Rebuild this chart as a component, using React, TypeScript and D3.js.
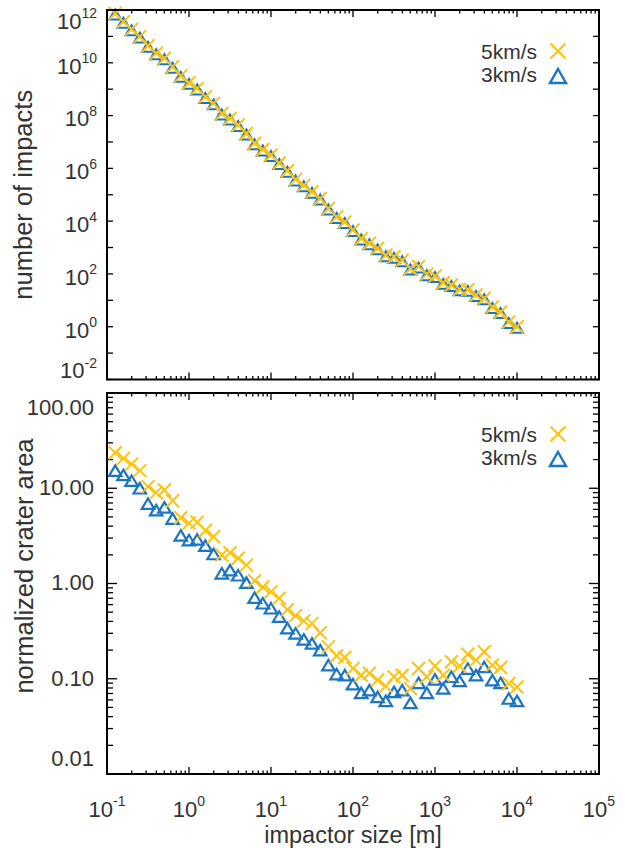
import React from "react";
import * as d3 from "d3";

// impactor size [m]
const impactorSize = [
  0.1259, 0.1585, 0.1995, 0.2512, 0.3162, 0.3981, 0.5012, 0.631, 0.7943, 1.0,
  1.259, 1.585, 1.995, 2.512, 3.162, 3.981, 5.012, 6.31, 7.943, 10,
  12.59, 15.85, 19.95, 25.12, 31.62, 39.81, 50.12, 63.1, 79.43, 100,
  125.9, 158.5, 199.5, 251.2, 316.2, 398.1, 501.2, 631, 794.3, 1000,
  1259, 1585, 1995, 2512, 3162, 3981, 5012, 6310, 7943, 10000,
];

// number of impacts
const impacts5 = [
  7.4e11, 3.6e11, 1.86e11, 9.8e10, 4.4e10, 2.3e10, 1.48e10, 7.1e9, 3.2e9, 1.74e9,
  1.07e9, 5.1e8, 2.9e8, 1.2e8, 7.8e7, 4.4e7, 2.1e7, 8.9e6, 5.2e6, 3.2e6,
  1.6e6, 8.1e5, 3.8e5, 2.3e5, 1.3e5, 7.2e4, 3.0e4, 1.45e4, 9.3e3, 4.6e3,
  2.2e3, 1.45e3, 930, 510, 450, 330, 160, 190, 98, 83,
  46, 38, 26, 25, 16, 12, 5.6, 3.6, 1.5, 1.0,
];
const impacts3 = [
  7.4e11, 3.6e11, 1.86e11, 9.8e10, 4.4e10, 2.3e10, 1.48e10, 7.1e9, 3.2e9, 1.74e9,
  1.07e9, 5.1e8, 2.9e8, 1.2e8, 7.8e7, 4.4e7, 2.1e7, 8.9e6, 5.2e6, 3.2e6,
  1.6e6, 8.1e5, 3.8e5, 2.3e5, 1.3e5, 7.2e4, 3.0e4, 1.45e4, 9.3e3, 4.6e3,
  2.2e3, 1.45e3, 930, 510, 450, 330, 160, 190, 98, 83,
  46, 38, 26, 25, 16, 12, 5.6, 3.6, 1.5, 1.0,
];

// normalized crater area
const area5 = [
  23.6, 20.6, 17.9, 15.3, 10.4, 9.0, 9.6, 7.4, 4.9, 4.3,
  4.4, 3.6, 3.1, 1.99, 2.1, 1.84, 1.56, 1.07, 0.92, 0.82,
  0.7, 0.53, 0.46, 0.405, 0.381, 0.304, 0.216, 0.173, 0.167, 0.128,
  0.109, 0.114, 0.097, 0.0836, 0.105, 0.109, 0.079, 0.128, 0.105, 0.136,
  0.109, 0.151, 0.136, 0.181, 0.157, 0.192, 0.139, 0.131, 0.089, 0.082,
];
const area3 = [
  15.3, 13.8, 12.0, 10.0, 6.9, 5.9, 6.3, 4.8, 3.2, 2.86,
  2.9, 2.5, 2.04, 1.28, 1.38, 1.22, 1.02, 0.71, 0.62, 0.55,
  0.45, 0.34, 0.3, 0.259, 0.235, 0.2, 0.139, 0.112, 0.109, 0.0878,
  0.0711, 0.0759, 0.0646, 0.0586, 0.0728, 0.0759, 0.0558, 0.0906, 0.0711, 0.0984,
  0.0791, 0.105, 0.095, 0.128, 0.109, 0.133, 0.0966, 0.0906, 0.062, 0.0586,
];

const seriesNames = ["5km/s", "3km/s"];
const seriesColors = ["#FFC30F", "#1B75C7"];

const xTickExps = [-1, 0, 1, 2, 3, 4, 5];
const topYTickExps = [-2, -1, 0, 1, 2, 3, 4, 5, 6, 7, 8, 9, 10, 11, 12];
const topYLabelExps = [-2, 0, 2, 4, 6, 8, 10, 12];
const bottomYTicks = [0.01, 0.1, 1, 10, 100];
const bottomYLabels = ["0.01", "0.10", "1.00", "10.00", "100.00"];

const xTitle = "impactor size [m]";
const topYTitle = "number of impacts";
const bottomYTitle = "normalized crater area";

const W = 625;
const H = 848;
const L = 107;
const R = 599;
const P1 = { top: 10, bottom: 379.5 };
const P2 = { top: 393, bottom: 774 };
const FONT = "'Liberation Sans', Arial, Helvetica, sans-serif";
const TXT = "#333333";

const x = d3.scaleLog().domain([0.1, 1e5]).range([L, R]);
const y1 = d3.scaleLog().domain([1e-2, 1e12]).range([P1.bottom, P1.top]);
const y2 = d3.scaleLog().domain([0.01, 100]).range([P2.bottom, P2.top]);

const minorDecadeValues = (lo: number, hi: number) => {
  const out: number[] = [];
  for (let e = lo; e < hi; e++) for (let m = 2; m <= 9; m++) out.push(m * Math.pow(10, e));
  return out;
};
const xMinor = minorDecadeValues(-1, 5);
const y2Minor = minorDecadeValues(-2, 2);

function Cross({ cx, cy, r, color, sw }: any) {
  return (
    <g stroke={color} strokeWidth={sw} fill="none">
      <line x1={cx - r} y1={cy - r} x2={cx + r} y2={cy + r} />
      <line x1={cx - r} y1={cy + r} x2={cx + r} y2={cy - r} />
    </g>
  );
}

function Tri({ cx, cy, w, h, color, sw }: any) {
  const p = d3.path();
  p.moveTo(cx, cy - h / 2);
  p.lineTo(cx + w / 2, cy + h / 2);
  p.lineTo(cx - w / 2, cy + h / 2);
  p.closePath();
  return <path d={p.toString()} stroke={color} strokeWidth={sw} fill="none" strokeLinejoin="miter" />;
}

function XTicks({ top, bottom }: { top: number; bottom: number }) {
  return (
    <g stroke="#000" strokeWidth={1.3}>
      {xTickExps.map((e) => {
        const px = x(Math.pow(10, e));
        return (
          <g key={"M" + e}>
            <line x1={px} x2={px} y1={bottom} y2={bottom - 7} />
            <line x1={px} x2={px} y1={top} y2={top + 7} />
          </g>
        );
      })}
      {xMinor.map((v, i) => {
        const px = x(v);
        return (
          <g key={"m" + i}>
            <line x1={px} x2={px} y1={bottom} y2={bottom - 3.5} />
            <line x1={px} x2={px} y1={top} y2={top + 3.5} />
          </g>
        );
      })}
    </g>
  );
}

function Legend({ top }: { top: number }) {
  const rows = [top + 41, top + 64];
  return (
    <g>
      {seriesNames.map((n, i) => (
        <text key={n} x={537} y={rows[i]} dy="0.36em" textAnchor="end" fontSize={21} fill={TXT} fontFamily={FONT}>
          {n}
        </text>
      ))}
      <Cross cx={558} cy={rows[0]} r={7.5} color={seriesColors[0]} sw={2.2} />
      <Tri cx={558} cy={rows[1] + 2} w={16} h={14} color={seriesColors[1]} sw={2.4} />
    </g>
  );
}

export default function App() {
  const clamp = (v: number, a: number, b: number) => Math.max(a, Math.min(b, v));
  return (
    <svg width={W} height={H} style={{ position: "absolute", left: 0, top: 0, background: "#fff" }} fontFamily={FONT}>
      <rect width={W} height={H} fill="#fff" />

      {/* ===== top panel ===== */}
      <XTicks top={P1.top} bottom={P1.bottom} />
      <g stroke="#000" strokeWidth={1.3}>
        {topYTickExps.map((e) => {
          const py = y1(Math.pow(10, e));
          return (
            <g key={e}>
              <line x1={L} x2={L + 6} y1={py} y2={py} />
              <line x1={R} x2={R - 6} y1={py} y2={py} />
            </g>
          );
        })}
      </g>
      {topYLabelExps.map((e) => {
        const cy = clamp(y1(Math.pow(10, e)) + 3, P1.top + 11, P1.bottom - 9);
        return (
          <text key={e} x={97} y={cy} dy="0.36em" textAnchor="end" fontSize={22} fill={TXT}>
            10
            <tspan fontSize={14} dy={-10.5}>{String(e)}</tspan>
          </text>
        );
      })}
      <text
        transform={`translate(32,${(P1.top + P1.bottom) / 2}) rotate(-90)`}
        textAnchor="middle"
        fontSize={25.5}
        fill={TXT}
      >
        {topYTitle}
      </text>
      <g>
        {impactorSize.map((s, i) => (
          <Tri key={"t" + i} cx={x(s)} cy={y1(impacts3[i]) + 1} w={12} h={10} color={seriesColors[1]} sw={2} />
        ))}
        {impactorSize.map((s, i) => (
          <Cross key={"c" + i} cx={x(s)} cy={y1(impacts5[i])} r={6.5} color={seriesColors[0]} sw={2} />
        ))}
      </g>
      <Legend top={P1.top} />
      <rect x={L} y={P1.top} width={R - L} height={P1.bottom - P1.top} fill="none" stroke="#000" strokeWidth={2} />

      {/* ===== bottom panel ===== */}
      <XTicks top={P2.top} bottom={P2.bottom} />
      <g stroke="#000" strokeWidth={1.3}>
        {bottomYTicks.map((v) => {
          const py = y2(v);
          return (
            <g key={v}>
              <line x1={L} x2={L + 10} y1={py} y2={py} />
              <line x1={R} x2={R - 10} y1={py} y2={py} />
            </g>
          );
        })}
        {y2Minor.map((v, i) => {
          const py = y2(v);
          return (
            <g key={i}>
              <line x1={L} x2={L + 6} y1={py} y2={py} />
              <line x1={R} x2={R - 6} y1={py} y2={py} />
            </g>
          );
        })}
      </g>
      {bottomYTicks.map((v, i) => {
        const cy = clamp(y2(v) - 1, P2.top + 14, P2.bottom - 16);
        return (
          <text key={v} x={94} y={cy} dy="0.36em" textAnchor="end" fontSize={22} fill={TXT}>
            {bottomYLabels[i]}
          </text>
        );
      })}
      <text
        transform={`translate(33,566) rotate(-90)`}
        textAnchor="middle"
        fontSize={25.5}
        fill={TXT}
      >
        {bottomYTitle}
      </text>
      <g>
        {impactorSize.map((s, i) => (
          <Tri key={"t" + i} cx={x(s)} cy={y2(area3[i])} w={12.5} h={10.5} color={seriesColors[1]} sw={2.2} />
        ))}
        {impactorSize.map((s, i) => (
          <Cross key={"c" + i} cx={x(s)} cy={y2(area5[i])} r={6.5} color={seriesColors[0]} sw={2} />
        ))}
      </g>
      <Legend top={P2.top} />
      <rect x={L} y={P2.top} width={R - L} height={P2.bottom - P2.top} fill="none" stroke="#000" strokeWidth={2} />

      {/* x tick labels */}
      {xTickExps.map((e) => (
        <text key={e} x={x(Math.pow(10, e))} y={809} dy="0.36em" textAnchor="middle" fontSize={22} fill={TXT}>
          10
          <tspan fontSize={14} dy={-10.5}>{String(e)}</tspan>
        </text>
      ))}
      <text x={(L + R) / 2} y={843} textAnchor="middle" fontSize={23.5} fill={TXT}>
        {xTitle}
      </text>
    </svg>
  );
}
